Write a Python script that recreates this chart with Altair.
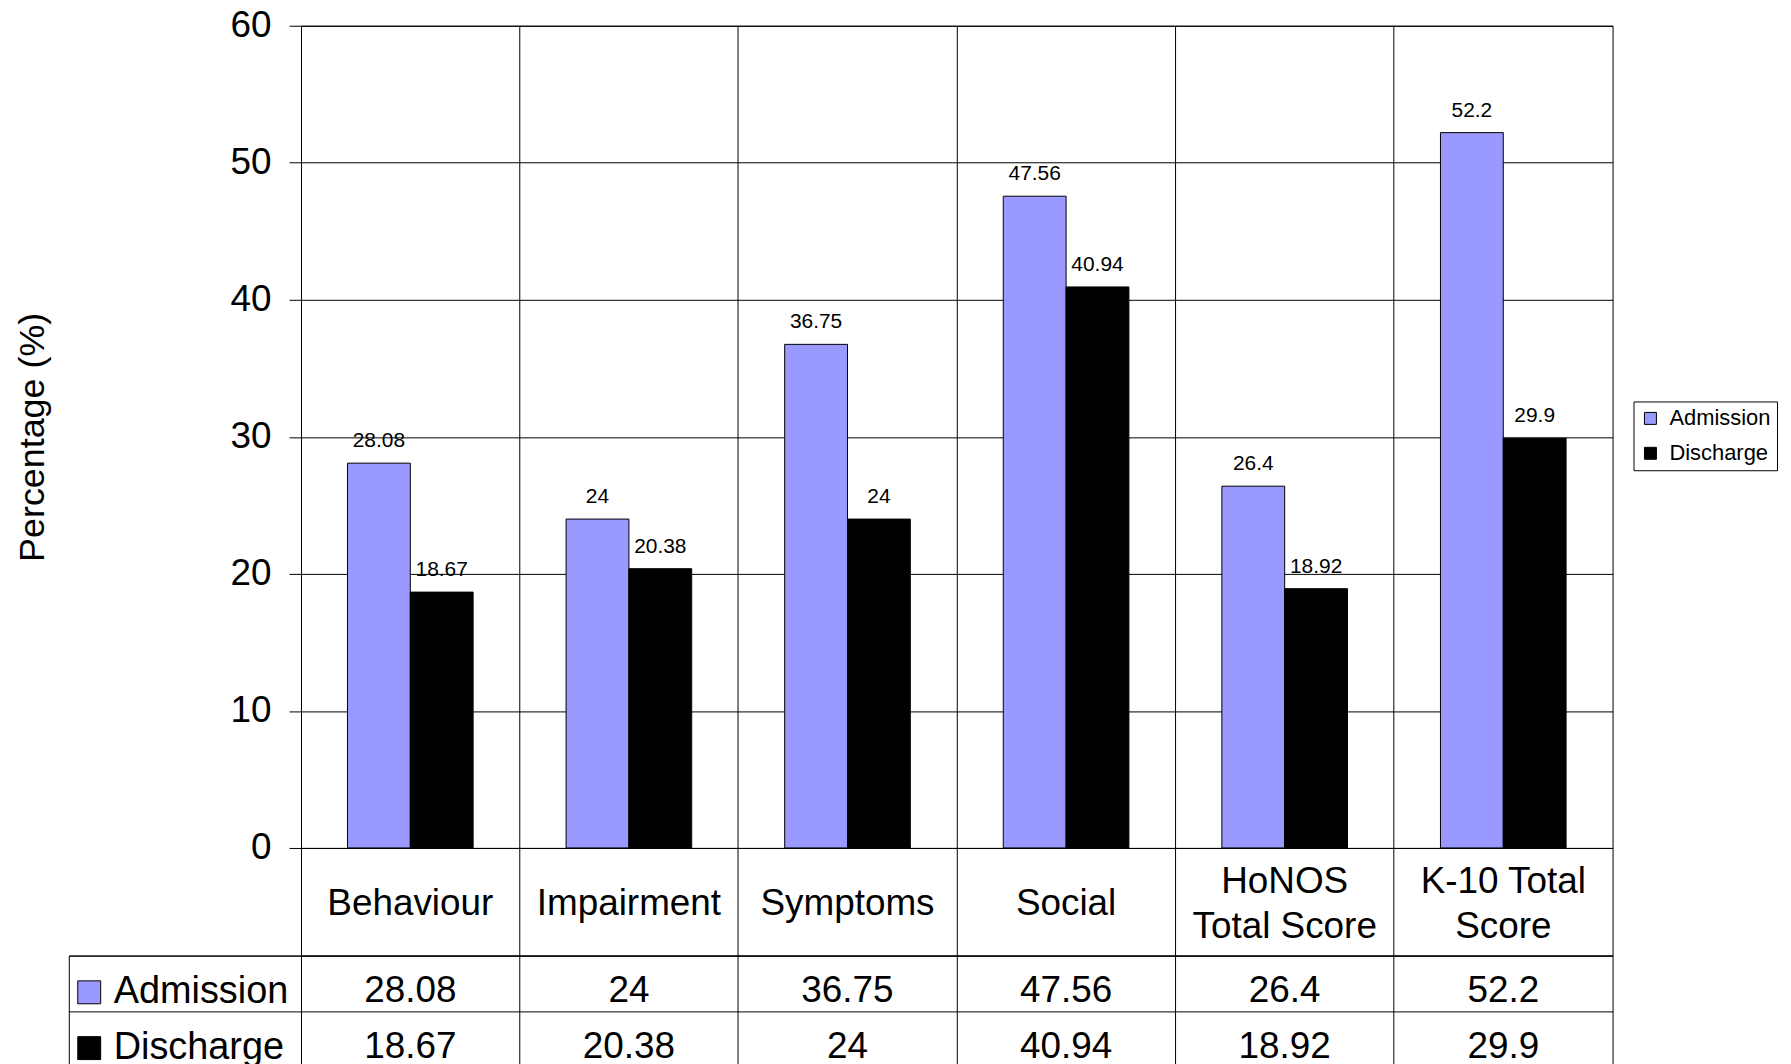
import altair as alt
import pandas as pd

categories = ["Behaviour", "Impairment", "Symptoms", "Social", "HoNOS Total Score", "K-10 Total Score"]
header_labels = ["Behaviour", "Impairment", "Symptoms", "Social", "HoNOS\nTotal Score", "K-10 Total\nScore"]
series = ["Admission", "Discharge"]
admission = [28.08, 24, 36.75, 47.56, 26.4, 52.2]
discharge = [18.67, 20.38, 24, 40.94, 18.92, 29.9]
colors = ["#9999FF", "#000000"]
y_ticks = [0, 10, 20, 30, 40, 50, 60]

rows = []
for i, c in enumerate(categories):
    for s, vals in zip(series, [admission, discharge]):
        rows.append({"category": c, "series": s, "value": vals[i], "label": str(vals[i])})
df = pd.DataFrame(rows)
hdr = pd.DataFrame({"category": categories, "header": header_labels,
                    "lines": [h.count("\n") + 1 for h in header_labels]})

FONT = "Liberation Sans"
W = 1316


def x_enc():
    return alt.X(
        "category:N", sort=categories,
        scale=alt.Scale(type="band", paddingInner=0, paddingOuter=0),
        axis=alt.Axis(title=None, labels=False, ticks=False, domain=False, grid=True,
                      bandPosition=0, gridColor="black", gridWidth=1, gridOpacity=1),
    )


color_scale = alt.Scale(domain=series, range=colors)
xoff = alt.XOffset("series:N", sort=series, scale=alt.Scale(paddingInner=0, paddingOuter=0.74))

bars = alt.Chart(df).mark_bar(stroke="black", strokeWidth=1).encode(
    x=x_enc(),
    xOffset=xoff,
    y=alt.Y("value:Q", scale=alt.Scale(domain=[0, 60], nice=False, zero=True),
            axis=alt.Axis(values=y_ticks, title="Percentage (%)", titleFontSize=36,
                          titleFontWeight="normal", titlePadding=179, labelFontSize=37,
                          tickSize=12, labelPadding=18, tickColor="black", domainColor="black",
                          gridColor="black", gridOpacity=1, labelColor="black", titleColor="black",
                          labelFont=FONT, titleFont=FONT)),
    color=alt.Color("series:N", sort=series, scale=color_scale,
                    legend=alt.Legend(title=None, orient="none", legendX=1337, legendY=377,
                                      strokeColor="black", padding=6, labelFontSize=22,
                                      labelFont=FONT, labelColor="black", symbolType="square",
                                      symbolSize=144, symbolStrokeColor="black",
                                      symbolStrokeWidth=1, rowPadding=13, labelOffset=8,
                                      fillColor="white")),
)
bar_labels = alt.Chart(df).mark_text(fontSize=21, baseline="alphabetic", dy=-16,
                                     color="black", font=FONT).encode(
    x=x_enc(), xOffset=xoff, y=alt.Y("value:Q"), text="label:N"
)
top = alt.layer(bars, bar_labels).properties(width=W, height=825)

hdr_one = alt.Chart(hdr).transform_filter("datum.lines == 1").mark_text(
    fontSize=37, baseline="middle", dy=2, font=FONT, color="black"
).encode(x=x_enc(), text="header:N")
hdr_two = alt.Chart(hdr).transform_filter("datum.lines == 2").mark_text(
    fontSize=37, lineHeight=45, lineBreak="\n", baseline="middle", dy=-20, font=FONT, color="black"
).encode(x=x_enc(), text="header:N")
header = alt.layer(hdr_one, hdr_two).properties(width=W, height=108)

y_tbl = alt.Y("series:N", sort=series, scale=alt.Scale(type="band", paddingInner=0, paddingOuter=0),
              axis=alt.Axis(title=None, labels=False, tickSize=233, tickColor="black",
                            tickWidth=1, bandPosition=0, grid=True, gridColor="black",
                            gridOpacity=1, domainColor="black"))
tbl_text = alt.Chart(df).mark_text(fontSize=37, dy=8, baseline="middle", font=FONT,
                                   color="black").encode(
    x=x_enc(), y=y_tbl, text="label:N"
)
# row-header column of the table, drawn as a boxed legend (an invisible title sets its width)
tbl_leg = alt.Chart(df).mark_square(opacity=0).encode(
    x=x_enc(), y=y_tbl,
    color=alt.Color("series:N", sort=series, scale=color_scale,
                    legend=alt.Legend(title="_" * 40, titleFontSize=10.34, titleFont=FONT,
                                      titleFontWeight="normal", titleOpacity=0,
                                      titlePadding=6, titleLimit=600,
                                      orient="none", legendX=-233, legendY=0,
                                      strokeColor="black", padding=1.5, labelFontSize=38,
                                      labelLimit=400,
                                      labelFont=FONT, labelColor="black", symbolType="square",
                                      symbolSize=529, symbolOpacity=1, symbolStrokeColor="black",
                                      symbolStrokeWidth=1, rowPadding=18, labelOffset=5.5)),
)
table = alt.layer(tbl_text, tbl_leg).properties(width=W, height=112)

chart = (
    alt.vconcat(top, header, table, spacing=0, bounds="flush")
    .resolve_scale(x="independent", y="independent", color="shared")
    .resolve_legend(color="independent")
    .configure(font=FONT, padding={"left": 6, "top": -4, "right": 5, "bottom": 0})
    .configure_view(stroke="black", strokeWidth=1)
)

chart.save("out.html", embed_options={"renderer": "svg", "actions": False})
